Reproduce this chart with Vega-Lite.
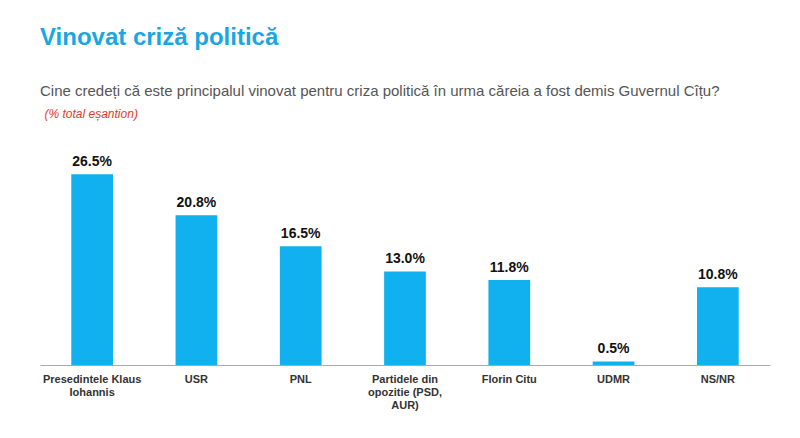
{
  "$schema": "https://vega.github.io/schema/vega-lite/v6.json",
  "width": 730,
  "height": 200,
  "autosize": "none",
  "padding": {"left": 40, "top": 165, "right": 30, "bottom": 73},
  "background": "white",
  "config": {"view": {"stroke": null}},
  "title": {
    "text": "Vinovat criză politică",
    "subtitle": "Cine credeți că este principalul vinovat pentru criza politică în urma căreia a fost demis Guvernul Cîțu?",
    "anchor": "start",
    "frame": "group",
    "font": "Arial",
    "fontSize": 24,
    "fontWeight": "bold",
    "color": "#1AA7E0",
    "subtitleFont": "Arial",
    "subtitleFontSize": 15,
    "subtitleColor": "#555555",
    "subtitlePadding": 34,
    "offset": 8
  },
  "data": {
    "values": [
      {"label": "Presedintele Klaus|Iohannis", "value": 26.5},
      {"label": "USR", "value": 20.8},
      {"label": "PNL", "value": 16.5},
      {"label": "Partidele din|opozitie (PSD,|AUR)", "value": 13.0},
      {"label": "Florin Citu", "value": 11.8},
      {"label": "UDMR", "value": 0.5},
      {"label": "NS/NR", "value": 10.8}
    ]
  },
  "transform": [{"calculate": "format(datum.value, '.1f') + '%'", "as": "txt"}],
  "encoding": {
    "x": {
      "field": "label",
      "type": "nominal",
      "sort": null,
      "scale": {"paddingInner": 0.6, "paddingOuter": 0.3},
      "axis": {
        "title": null,
        "labelAngle": 0,
        "labelExpr": "split(datum.label, '|')",
        "labelFont": "Arial",
        "labelFontSize": 11,
        "labelFontWeight": "bold",
        "labelColor": "#333333",
        "labelAlign": "center",
        "labelPadding": 8,
        "ticks": false,
        "domainColor": "#aaaaaa"
      }
    },
    "y": {
      "field": "value",
      "type": "quantitative",
      "scale": {"domain": [0, 27.8]},
      "axis": {
        "title": "(% total eșantion)",
        "titleAngle": 0,
        "titleAlign": "left",
        "titleBaseline": "middle",
        "titleX": 4,
        "titleY": -52,
        "titleFont": "Arial",
        "titleFontSize": 12,
        "titleFontWeight": "normal",
        "titleFontStyle": "italic",
        "titleColor": "#E0392B",
        "labels": false,
        "ticks": false,
        "domain": false,
        "grid": false
      }
    }
  },
  "layer": [
    {"mark": {"type": "bar", "color": "#10B1EE"}},
    {
      "mark": {"type": "text", "dy": -12, "font": "Arial", "fontSize": 14, "fontWeight": "bold", "color": "#111111"},
      "encoding": {"text": {"field": "txt", "type": "nominal"}}
    }
  ]
}
